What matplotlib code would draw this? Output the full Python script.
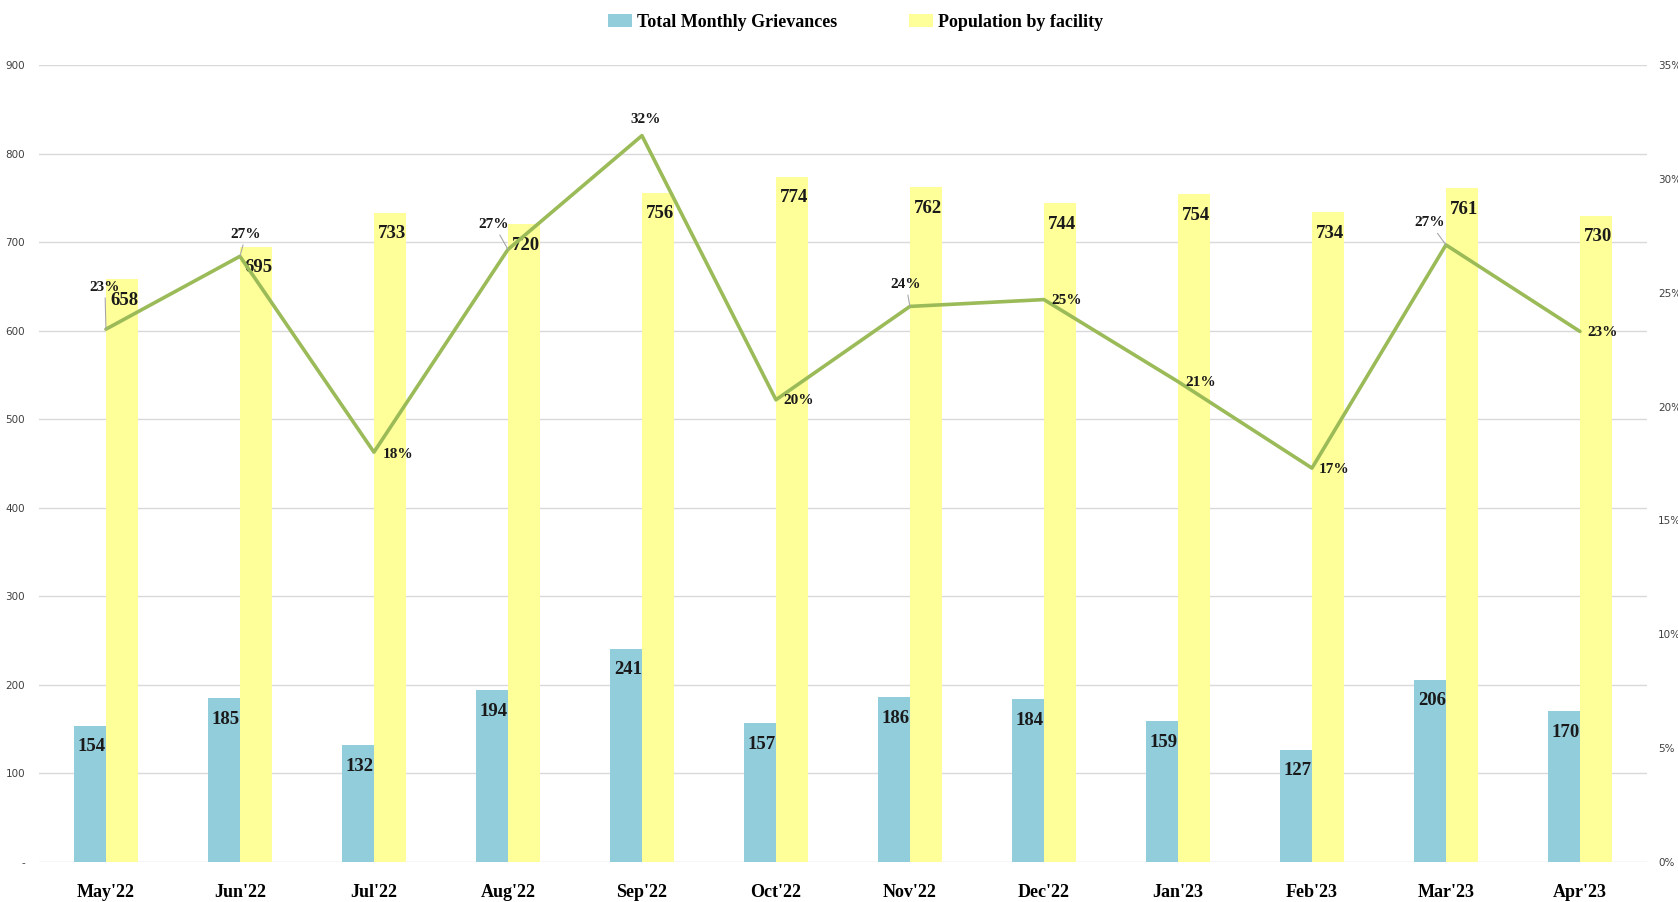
import matplotlib
matplotlib.use("Agg")
import matplotlib.pyplot as plt
from matplotlib.patches import Patch
import numpy as np

months = ["May'22", "Jun'22", "Jul'22", "Aug'22", "Sep'22", "Oct'22",
          "Nov'22", "Dec'22", "Jan'23", "Feb'23", "Mar'23", "Apr'23"]
grievances = [154, 185, 132, 194, 241, 157, 186, 184, 159, 127, 206, 170]
population = [658, 695, 733, 720, 756, 774, 762, 744, 754, 734, 761, 730]
ratio = [0.234, 0.266, 0.180, 0.269, 0.319, 0.203, 0.244, 0.247, 0.211, 0.173, 0.271, 0.233]
ratio_labels = ["23%", "27%", "18%", "27%", "32%", "20%", "24%", "25%", "21%", "17%", "27%", "23%"]

left_ticks = [0, 100, 200, 300, 400, 500, 600, 700, 800, 900]
left_tick_labels = ["-", "100", "200", "300", "400", "500", "600", "700", "800", "900"]
right_ticks = [0, 0.05, 0.10, 0.15, 0.20, 0.25, 0.30, 0.35]
right_tick_labels = ["0%", "5%", "10%", "15%", "20%", "25%", "30%", "35%"]

# label placement (pixel offsets of label centre from point) and leader-line flags
pct_offsets = [(-1, 42), (6, 22), (24, -2), (-14, 25), (4, 16), (23, -1),
               (-4, 22), (23, -1), (23, -1), (22, -1), (-16, 22), (23, -1)]
pct_leader = [True, True, False, True, False, False, True, False, False, False, True, False]

BLUE = "#92CDDC"
YELLOW = "#FFFF99"
GREEN = "#9BBB59"
GRID = "#D9D9D9"
SERIF = ["Liberation Serif", "DejaVu Serif"]

fig = plt.figure(figsize=(16.78, 9.02), dpi=100)
ax = fig.add_axes([0.0232, 0.0443, 0.9583, 0.8836])
ax2 = ax.twinx()

x = np.arange(len(months))
w = 0.24
ax.bar(x - w / 2, grievances, width=w, color=BLUE, zorder=2)
ax.bar(x + w / 2, population, width=w, color=YELLOW, zorder=2)

ax.set_xlim(-0.5, len(months) - 0.5)
ax.set_ylim(0, 900)
ax.set_yticks(left_ticks)
ax.set_yticklabels(left_tick_labels)
ax.yaxis.grid(True, color=GRID, linewidth=1.0, zorder=0)
ax.set_axisbelow(True)
ax.set_xticks(x)
ax.set_xticklabels(months, fontfamily=SERIF, fontweight="bold", fontsize=13)
ax.tick_params(axis="x", length=0, pad=16)
ax.tick_params(axis="y", length=0, pad=10, labelsize=7.5, labelcolor="#404040")
for s in ax.spines.values():
    s.set_visible(False)

for i in range(len(months)):
    ax.annotate(str(grievances[i]), xy=(x[i] - w / 2, grievances[i]), xytext=(2, -21),
                textcoords="offset pixels", ha="center", va="center",
                fontfamily=SERIF, fontweight="bold", fontsize=13.5, color="#1a1a1a", zorder=5)
    ax.annotate(str(population[i]), xy=(x[i] + w / 2, population[i]), xytext=(2, -21),
                textcoords="offset pixels", ha="center", va="center",
                fontfamily=SERIF, fontweight="bold", fontsize=13.5, color="#1a1a1a", zorder=5)

ax2.plot(x, ratio, color=GREEN, linewidth=2.6, zorder=3, solid_capstyle="round")
ax2.set_ylim(0, 0.35)
ax2.set_yticks(right_ticks)
ax2.set_yticklabels(right_tick_labels)
ax2.tick_params(axis="y", length=0, pad=8, labelsize=7.5, labelcolor="#404040")
for s in ax2.spines.values():
    s.set_visible(False)

for i in range(len(months)):
    kw = {}
    if pct_leader[i]:
        kw["arrowprops"] = dict(arrowstyle="-", color="#A6A6A6", lw=0.8,
                                shrinkA=1, shrinkB=0)
    ax2.annotate(ratio_labels[i], xy=(x[i], ratio[i]), xytext=pct_offsets[i],
                 textcoords="offset pixels", ha="center", va="center",
                 fontfamily=SERIF, fontweight="bold", fontsize=11, color="#1a1a1a", **kw)

handles = [Patch(facecolor=BLUE, edgecolor="none"), Patch(facecolor=YELLOW, edgecolor="none")]
fig.legend(handles, ["Total Monthly Grievances", "Population by facility"],
           loc="center", bbox_to_anchor=(0.51, 0.975), ncol=2, frameon=False,
           prop={"family": SERIF, "weight": "bold", "size": 13},
           handlelength=1.3, handleheight=0.7, handletextpad=0.3, columnspacing=4.0)

fig.savefig("out.png", dpi=100)
